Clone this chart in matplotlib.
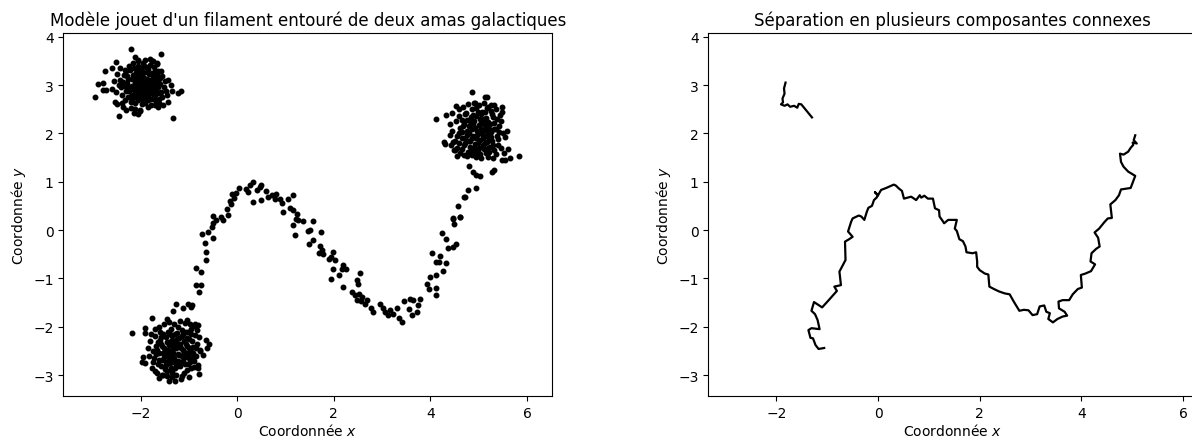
import numpy as np
import matplotlib
matplotlib.use("Agg")
import matplotlib.pyplot as plt

# points (coordonnees x, y)
amas_haut = np.array([
    (-2.20, 3.75), (-1.58, 3.64), (-2.12, 3.57), (-2.05, 3.52), (-1.81, 3.54), (-1.74, 3.49),
    (-1.67, 3.44), (-2.50, 3.47), (-2.60, 3.35), (-2.43, 3.36), (-2.33, 3.31), (-2.74, 3.28),
    (-2.89, 3.02), (-2.78, 3.05), (-2.95, 2.76), (-2.78, 2.90), (-2.71, 2.90), (-1.43, 3.11),
    (-1.38, 2.99), (-1.35, 2.87), (-1.22, 2.83), (-1.16, 2.87), (-1.46, 2.79), (-1.43, 2.65),
    (-1.53, 2.58), (-1.64, 2.54), (-1.78, 2.58), (-2.52, 2.65), (-2.48, 2.61), (-2.37, 2.54),
    (-2.31, 2.49), (-2.45, 2.35), (-2.14, 2.42), (-2.05, 2.41), (-2.02, 2.47), (-1.33, 2.32),
    (-2.12, 2.50),
    (-2.35, 3.20), (-2.28, 3.05), (-2.22, 2.92), (-2.18, 3.12), (-2.15, 2.80), (-2.10, 3.25),
    (-2.08, 2.98), (-2.05, 3.10), (-2.02, 2.85), (-2.00, 3.02), (-1.98, 3.30), (-1.95, 2.92),
    (-1.92, 3.15), (-1.90, 2.75), (-1.88, 3.05), (-1.85, 2.88), (-1.82, 3.22), (-1.80, 2.98),
    (-1.78, 3.10), (-1.75, 2.82), (-1.72, 3.00), (-1.70, 3.28), (-1.68, 2.90), (-1.65, 3.12),
    (-1.62, 2.72), (-1.60, 3.02), (-1.58, 2.85), (-1.55, 3.18), (-1.52, 2.95), (-2.40, 2.95),
    (-2.42, 3.10), (-2.38, 2.80), (-2.32, 2.70), (-2.30, 3.30), (-2.25, 3.40), (-2.20, 2.65),
    (-2.12, 2.62), (-2.05, 2.70), (-1.98, 2.60), (-1.90, 2.62), (-1.85, 2.68), (-1.78, 2.72),
    (-1.70, 2.70), (-1.62, 2.62), (-2.15, 3.45), (-2.05, 3.40), (-1.95, 3.45), (-1.88, 3.38),
    (-1.80, 3.42), (-1.72, 3.38), (-1.65, 3.30), (-1.58, 3.28), (-1.50, 3.08), (-1.48, 2.88),
    (-1.55, 2.75), (-2.45, 3.00), (-2.48, 3.22), (-2.50, 2.85), (-2.55, 3.08), (-2.60, 2.92),
    (-2.25, 2.88), (-2.12, 3.05), (-2.00, 3.18), (-1.92, 2.88), (-1.86, 3.12), (-1.76, 2.95),
    (-1.68, 3.05), (-2.18, 2.98), (-2.08, 2.88), (-2.02, 3.28), (-1.96, 3.08), (-1.84, 2.80),
    (-1.74, 3.18), (-2.28, 3.18), (-2.32, 2.98), (-2.10, 2.75), (-1.94, 2.70), (-1.82, 2.92),
    (-1.64, 2.95), (-1.60, 3.15), (-2.22, 3.32), (-2.06, 3.50), (-1.90, 3.52), (-1.76, 3.50),
    (-1.66, 3.45), (-2.38, 2.62), (-2.20, 2.52), (-2.02, 2.48), (-1.85, 2.55), (-1.70, 2.58),
    (-2.26, 3.12), (-2.16, 3.20), (-2.06, 3.22), (-1.96, 3.24), (-1.86, 3.26), (-1.76, 3.24),
    (-1.66, 3.20), (-2.24, 2.96), (-2.14, 2.90), (-2.04, 2.94), (-1.94, 2.98), (-1.84, 3.00),
    (-1.74, 3.04), (-1.64, 3.08), (-2.20, 2.78), (-2.10, 2.82), (-2.00, 2.78), (-1.90, 2.84),
    (-1.80, 2.86), (-1.70, 2.80), (-2.30, 2.88), (-2.26, 2.76), (-2.14, 3.36), (-2.00, 3.36),
    (-1.84, 3.34), (-1.70, 3.14), (-1.96, 3.14), (-2.10, 3.14), (-1.88, 2.94), (-2.02, 3.06),
    (-1.78, 2.90), (-1.62, 2.84), (-2.36, 3.06), (-2.18, 2.70), (-1.92, 3.40), (-2.08, 3.30),
    (-1.82, 3.08), (-1.98, 2.90), (-2.12, 2.96), (-1.72, 2.92),
])

amas_bas = np.array([
    (-1.27, -1.52), (-0.95, -1.60), (-1.32, -1.67), (-1.77, -1.81), (-1.45, -1.85), (-2.17, -2.14),
    (-1.91, -2.02), (-1.91, -2.14), (-0.81, -1.97), (-0.84, -2.07), (-0.65, -2.28), (-0.58, -2.35),
    (-0.62, -2.45), (-0.71, -2.59), (-1.95, -2.62), (-1.91, -2.76), (-1.98, -2.72), (-1.71, -2.91),
    (-0.79, -2.98), (-1.62, -3.07), (-1.41, -3.12), (-1.29, -3.12), (-1.16, -3.09), (-1.00, -3.03),
    (-0.89, -2.83), (-0.81, -2.79), (-1.53, -3.00), (-0.78, -2.48),
    (-1.80, -2.30), (-1.75, -2.50), (-1.72, -2.65), (-1.70, -2.20), (-1.68, -2.40), (-1.65, -2.78),
    (-1.62, -2.55), (-1.60, -2.10), (-1.58, -2.35), (-1.55, -2.68), (-1.52, -2.45), (-1.50, -2.88),
    (-1.48, -2.22), (-1.45, -2.60), (-1.42, -2.38), (-1.40, -2.75), (-1.38, -2.05), (-1.36, -2.50),
    (-1.34, -2.92), (-1.32, -2.30), (-1.30, -2.65), (-1.28, -2.15), (-1.26, -2.45), (-1.24, -2.82),
    (-1.22, -2.00), (-1.20, -2.58), (-1.18, -2.35), (-1.16, -2.72), (-1.14, -2.20), (-1.12, -2.48),
    (-1.10, -2.95), (-1.08, -2.62), (-1.06, -2.10), (-1.04, -2.40), (-1.02, -2.78), (-1.00, -2.25),
    (-0.98, -2.55), (-0.95, -2.05), (-0.92, -2.42), (-0.90, -2.70), (-0.88, -2.18), (-0.86, -2.60),
    (-0.84, -2.35), (-0.82, -2.85), (-0.80, -2.22), (-0.78, -2.50), (-1.85, -2.45), (-1.82, -2.60),
    (-1.78, -2.15), (-1.76, -2.85), (-1.66, -2.95), (-1.56, -3.00), (-1.46, -3.02), (-1.36, -3.05),
    (-1.26, -3.00), (-1.15, -3.02), (-1.05, -2.90), (-0.95, -2.85), (-1.62, -2.00), (-1.52, -1.95),
    (-1.42, -1.90), (-1.30, -1.95), (-1.18, -1.88), (-1.08, -1.92), (-0.98, -1.95), (-0.90, -1.98),
    (-1.70, -2.05), (-1.58, -2.22), (-1.44, -2.48), (-1.34, -2.70), (-1.24, -2.25), (-1.14, -2.60),
    (-1.04, -2.55), (-0.94, -2.30), (-1.48, -2.72), (-1.38, -2.30), (-1.28, -2.85), (-1.20, -2.40),
    (-1.10, -2.30), (-1.00, -2.65), (-1.54, -2.55), (-1.64, -2.32), (-1.74, -2.72), (-1.40, -2.15),
    (-1.32, -2.55), (-1.22, -2.70), (-1.12, -2.15), (-1.02, -2.10), (-0.92, -2.55), (-0.86, -2.45),
    (-1.66, -2.48), (-1.56, -2.40), (-1.46, -2.32), (-1.36, -2.40), (-1.26, -2.34), (-1.16, -2.44),
    (-1.06, -2.36), (-0.96, -2.44), (-1.62, -2.68), (-1.52, -2.62), (-1.42, -2.66), (-1.32, -2.62),
    (-1.22, -2.56), (-1.12, -2.70), (-1.02, -2.62), (-0.92, -2.64), (-1.58, -2.82), (-1.48, -2.80),
    (-1.38, -2.86), (-1.28, -2.76), (-1.18, -2.82), (-1.08, -2.78), (-0.98, -2.74), (-1.54, -2.16),
    (-1.44, -2.10), (-1.34, -2.20), (-1.24, -2.12), (-1.14, -2.06), (-1.04, -2.24), (-0.96, -2.16),
    (-1.68, -2.56), (-1.60, -2.28), (-1.50, -2.52), (-1.40, -2.56), (-1.30, -2.44), (-1.20, -2.24),
    (-1.10, -2.52), (-1.00, -2.44), (-1.46, -2.92), (-1.36, -2.96),
])

amas_droite = np.array([
    (4.11, 2.30), (4.32, 2.37), (4.44, 2.42), (5.44, 2.38), (5.59, 2.04), (5.54, 1.92),
    (4.28, 1.82), (4.47, 1.82), (4.51, 1.65), (4.54, 1.54), (4.75, 1.54), (5.61, 1.67),
    (5.64, 1.49), (5.47, 1.44), (5.54, 1.44), (5.84, 1.53), (5.27, 1.21), (5.31, 1.25),
    (5.02, 1.12), (4.86, 2.85), (5.12, 2.75), (5.17, 2.75), (5.48, 2.54), (5.32, 2.58),
    (4.92, 2.63), (4.52, 2.56), (4.29, 1.77), (4.40, 1.96),
    (4.45, 2.05), (4.50, 1.85), (4.52, 2.25), (4.55, 1.70), (4.58, 2.00), (4.60, 2.35),
    (4.62, 1.60), (4.65, 1.90), (4.68, 2.15), (4.70, 1.75), (4.72, 2.40), (4.75, 2.05),
    (4.78, 1.62), (4.80, 1.85), (4.82, 2.25), (4.85, 2.50), (4.88, 1.95), (4.90, 1.70),
    (4.92, 2.12), (4.95, 2.35), (4.98, 1.80), (5.00, 2.02), (5.02, 1.58), (5.04, 2.22),
    (5.06, 2.45), (5.08, 1.90), (5.10, 1.68), (5.12, 2.10), (5.14, 2.32), (5.16, 1.82),
    (5.18, 2.00), (5.20, 2.55), (5.22, 1.62), (5.24, 2.20), (5.26, 1.92), (5.28, 2.40),
    (5.30, 1.75), (5.32, 2.08), (5.35, 1.58), (5.38, 2.30), (5.40, 1.88), (5.42, 2.15),
    (5.45, 1.70), (5.48, 2.45), (5.50, 2.00), (5.52, 1.60), (4.40, 2.20), (4.42, 1.75),
    (4.48, 1.65), (4.58, 2.50), (4.68, 2.55), (4.78, 2.60), (4.90, 2.62), (5.00, 2.58),
    (5.10, 2.62), (5.25, 2.58), (5.35, 2.50), (4.70, 1.55), (4.85, 1.55), (4.95, 1.52),
    (5.05, 1.48), (5.20, 1.52), (5.30, 1.48), (4.85, 2.10), (4.95, 1.90), (5.05, 2.10),
    (5.15, 1.95), (4.75, 2.28), (4.88, 2.38), (5.02, 2.30), (5.12, 2.45), (5.22, 2.10),
    (4.62, 2.12), (4.72, 1.90), (4.82, 1.72), (4.92, 1.62), (5.08, 1.75), (5.18, 1.70),
    (5.28, 1.85), (5.38, 1.95), (5.45, 2.25), (4.55, 1.95), (4.65, 2.28), (5.00, 1.70),
    (5.10, 2.20), (4.80, 2.00), (4.98, 2.45), (5.32, 2.22),
    (4.66, 2.02), (4.76, 1.96), (4.86, 1.90), (4.96, 2.04), (5.06, 1.98), (5.16, 2.06),
    (5.26, 2.02), (5.36, 2.08), (4.70, 2.20), (4.80, 2.16), (4.90, 2.26), (5.00, 2.18),
    (5.10, 2.30), (5.20, 2.24), (5.30, 2.34), (4.72, 1.80), (4.82, 1.84), (4.92, 1.78),
    (5.02, 1.86), (5.12, 1.80), (5.22, 1.88), (5.32, 1.66), (4.74, 2.42), (4.84, 2.34),
    (4.94, 2.52), (5.04, 2.40), (5.16, 2.52), (5.26, 2.46), (4.66, 1.68), (4.86, 1.66),
    (4.98, 1.62), (5.14, 1.60), (5.24, 1.72), (5.42, 2.02), (4.60, 1.80), (5.40, 1.76),
    (4.88, 2.18), (5.18, 2.16), (5.08, 2.04), (4.96, 1.96),
])

filament = np.array([
    (-1.12, -1.62), (-1.02, -1.52), (-0.93, -1.56), (-1.05, -1.86), (-0.88, -1.95), (-0.86, -1.14),
    (-0.74, -1.14), (-0.79, -1.28), (-0.86, -0.78), (-0.76, -0.87), (-0.65, -0.63), (-0.65, -0.46),
    (-0.67, -0.27), (-0.72, -0.08), (-0.60, -0.04), (-0.50, -0.16), (-0.53, 0.06), (-0.44, 0.20),
    (-0.50, 0.30), (-0.51, 0.15), (-0.33, 0.27), (-0.29, 0.20), (-0.19, 0.32), (-0.22, 0.44),
    (-0.12, 0.54), (-0.15, 0.61), (-0.07, 0.66), (-0.10, 0.75), (-0.02, 0.77), (0.04, 0.87),
    (0.19, 0.85), (0.22, 0.79), (0.27, 0.94), (0.33, 0.99), (0.32, 0.58), (0.40, 0.82),
    (0.47, 0.89), (0.50, 0.94), (0.50, 0.63), (0.59, 0.80), (0.64, 0.68), (0.71, 0.72),
    (0.78, 0.65), (0.81, 0.75), (0.88, 0.65), (0.92, 0.56), (1.06, 0.65), (1.16, 0.73),
    (0.95, 0.37), (1.09, 0.45), (1.16, 0.41), (1.23, 0.34), (1.21, 0.23), (1.26, 0.20),
    (1.36, 0.18), (1.16, 0.11), (1.20, -0.11), (1.50, 0.00), (1.47, -0.03), (1.56, 0.18),
    (1.57, -0.21), (1.49, -0.28), (1.74, -0.04), (1.72, -0.32), (1.76, -0.42), (1.70, -0.47),
    (1.78, -0.49), (1.98, -0.45), (1.95, -0.56), (2.02, -0.63), (1.90, -0.59), (2.19, -0.73),
    (2.16, -0.81), (2.11, -0.94), (1.98, -0.80), (2.26, -0.81), (1.95, -1.02), (2.18, -1.18),
    (2.54, -0.88), (2.47, -1.04), (2.50, -1.11), (2.37, -1.28), (2.43, -1.35), (2.52, -1.33),
    (2.59, -1.38), (2.48, -1.45), (2.57, -1.47), (2.68, -1.45), (2.64, -1.54), (2.76, -1.62),
    (2.80, -1.69), (2.95, -1.52), (3.01, -1.61), (3.05, -1.69), (3.12, -1.76), (3.16, -1.66),
    (3.23, -1.73), (3.30, -1.61), (3.35, -1.82), (3.42, -1.90), (3.45, -1.47), (3.57, -1.43),
    (3.56, -1.64), (3.64, -1.45), (3.61, -1.76), (3.72, -1.69), (3.74, -1.56), (3.79, -1.42),
    (3.92, -1.11), (3.97, -1.21), (4.11, -1.35), (3.99, -0.97), (4.12, -0.94), (4.11, -1.20),
    (4.04, -0.47), (4.19, -0.54), (4.18, -0.66), (4.26, -0.84), (4.12, -0.67), (4.32, -0.69),
    (4.23, -0.07), (4.33, -0.19), (4.37, -0.38), (4.47, -0.35), (4.53, -0.28), (4.47, 0.23),
    (4.49, 0.13), (4.62, 0.27), (4.57, 0.50), (4.69, 0.68), (4.78, 0.82), (4.94, 0.87),
    (4.80, 1.32), (4.87, 1.20), (4.95, 1.14), (4.71, 0.68), (4.46, 0.25), (4.62, 0.27),
])

# composantes connexes (trace de droite)
composante_1 = np.array([
    (-1.82, 3.05), (-1.85, 2.93), (-1.84, 2.82), (-1.88, 2.72), (-1.87, 2.64), (-1.91, 2.60),
    (-1.84, 2.57), (-1.78, 2.60), (-1.73, 2.55), (-1.65, 2.57), (-1.59, 2.53), (-1.56, 2.61),
    (-1.51, 2.60), (-1.30, 2.33),
])

composante_2 = np.array([
    (-1.06, -2.44), (-1.17, -2.46), (-1.23, -2.38), (-1.28, -2.24), (-1.33, -2.23), (-1.37, -2.07),
    (-1.31, -2.03), (-1.15, -2.05), (-1.19, -1.86), (-1.24, -1.74), (-1.31, -1.67), (-1.26, -1.49),
    (-1.10, -1.60), (-0.97, -1.45), (-0.81, -1.26), (-0.86, -1.17), (-0.73, -1.14), (-0.76, -0.86),
    (-0.69, -0.72), (-0.64, -0.62), (-0.65, -0.24), (-0.57, -0.19), (-0.50, -0.14), (-0.59, -0.03),
    (-0.53, 0.17), (-0.50, 0.24), (-0.38, 0.30), (-0.33, 0.28), (-0.27, 0.21), (-0.22, 0.38),
    (-0.19, 0.46), (-0.12, 0.50), (-0.08, 0.62), (-0.03, 0.67), (0.00, 0.72), (-0.06, 0.78),
    (0.00, 0.72), (0.06, 0.83), (0.16, 0.87), (0.31, 0.94), (0.35, 0.92), (0.42, 0.85),
    (0.47, 0.81), (0.51, 0.65), (0.65, 0.69), (0.68, 0.67), (0.75, 0.62), (0.82, 0.72),
    (0.85, 0.67), (0.91, 0.71), (0.98, 0.65), (1.08, 0.65), (1.12, 0.45), (1.20, 0.41),
    (1.21, 0.28), (1.27, 0.19), (1.30, 0.14), (1.38, 0.21), (1.55, 0.21), (1.51, 0.03),
    (1.55, -0.02), (1.60, -0.19), (1.67, -0.23), (1.72, -0.34), (1.74, -0.46), (1.86, -0.48),
    (1.93, -0.46), (1.95, -0.65), (1.95, -0.76), (2.00, -0.83), (2.10, -0.90), (2.17, -0.92),
    (2.19, -1.17), (2.28, -1.22), (2.38, -1.27), (2.49, -1.31), (2.59, -1.33), (2.67, -1.48),
    (2.78, -1.67), (2.87, -1.65), (2.96, -1.66), (3.04, -1.76), (3.13, -1.74), (3.18, -1.58),
    (3.27, -1.56), (3.31, -1.69), (3.38, -1.72), (3.35, -1.84), (3.44, -1.91), (3.53, -1.84),
    (3.63, -1.79), (3.72, -1.77), (3.67, -1.69), (3.56, -1.62), (3.55, -1.48), (3.63, -1.45),
    (3.76, -1.45), (3.83, -1.33), (3.93, -1.22), (4.01, -1.19), (3.99, -0.93), (4.08, -0.90),
    (4.19, -0.85), (4.27, -0.71), (4.18, -0.65), (4.20, -0.48), (4.29, -0.39), (4.36, -0.34),
    (4.33, -0.16), (4.26, -0.05), (4.35, 0.03), (4.45, 0.16), (4.52, 0.24), (4.60, 0.25),
    (4.57, 0.53), (4.67, 0.62), (4.74, 0.72), (4.78, 0.84), (4.97, 0.87), (5.01, 0.98),
    (5.06, 1.12), (4.92, 1.21), (4.83, 1.31), (4.78, 1.41), (4.76, 1.58), (4.83, 1.56),
    (4.92, 1.62), (4.97, 1.70), (5.02, 1.76), (5.01, 1.81), (5.09, 1.79), (5.03, 1.86),
    (5.06, 1.96),
])

points = np.vstack([amas_haut, amas_bas, amas_droite, filament])

fig = plt.figure(figsize=(11.92, 4.39), dpi=100)
ax1 = fig.add_axes([0.0531, 0.0960, 0.4102, 0.8259])
ax2 = fig.add_axes([0.5942, 0.0960, 0.4102, 0.8259])

ax1.plot(points[:, 0], points[:, 1], 'k.', ms=6.5)
ax1.set_xlim(-3.60, 6.52)
ax1.set_ylim(-3.43, 4.07)
ax1.set_title("Modèle jouet d'un filament entouré de deux amas galactiques")
ax1.set_xlabel("Coordonnée $x$", labelpad=2)
ax1.set_ylabel("Coordonnée $y$")

for comp in [composante_1, composante_2]:
    ax2.plot(comp[:, 0], comp[:, 1], 'k-', lw=1.6)
ax2.set_xlim(-3.34, 6.28)
ax2.set_ylim(-3.43, 4.07)
ax2.set_title("Séparation en plusieurs composantes connexes")
ax2.set_xlabel("Coordonnée $x$", labelpad=2)
ax2.set_ylabel("Coordonnée $y$")

fig.savefig("out.png", dpi=100)
